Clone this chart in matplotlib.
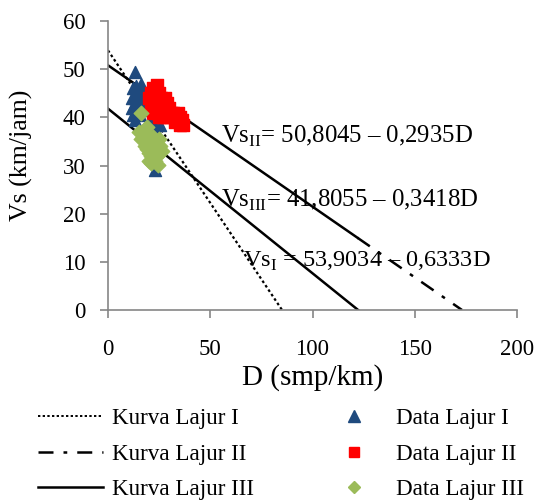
import matplotlib
matplotlib.use("Agg")
import matplotlib.pyplot as plt
from matplotlib.lines import Line2D
import numpy as np

plt.rcParams['font.family'] = ['Liberation Serif', 'DejaVu Serif']
plt.rcParams['mathtext.fontset'] = 'custom'
plt.rcParams['mathtext.rm'] = 'Liberation Serif'

# fitted curves: Vs = a - b*D
lanes = ['I', 'II', 'III']
intercepts = [53.9034, 50.8045, 41.8055]
slopes = [0.6333, 0.2935, 0.3418]

# observed data (D in smp/km, Vs in km/jam)
d_lajur1 = [13.2, 12.0, 13.5, 14.5, 15.5, 13.0, 16.0, 14.0, 15.0, 12.5, 16.5, 17.5,
            14.0, 15.5, 17.0, 13.5, 16.0, 21.0, 22.5, 24.0, 25.5, 23.0, 23.0,
            11.5, 11.8, 12.2, 13.0]
vs_lajur1 = [49.5, 46.0, 46.5, 45.0, 46.0, 44.0, 44.5, 43.0, 42.5, 42.5, 43.0, 41.5,
             41.5, 40.5, 45.0, 45.5, 47.0, 39.5, 38.5, 40.0, 38.5, 37.5, 29.0,
             44.0, 42.0, 40.5, 39.5]

d_lajur2 = [20, 21, 22, 23, 24, 25, 26, 22, 23, 24, 25, 26, 27, 28, 21, 22, 24, 26,
            27, 28, 29, 30, 31, 32, 33, 34, 35, 36, 25, 27, 29, 31, 33, 35, 23, 30, 36.5]
vs_lajur2 = [44.0, 45.0, 46.0, 45.5, 46.8, 45.0, 44.0, 43.0, 42.0, 44.0, 43.0, 42.0,
             43.0, 44.0, 42.0, 41.0, 41.0, 40.5, 41.0, 42.0, 43.0, 42.0, 41.0, 41.0,
             40.0, 41.0, 40.0, 39.5, 40.0, 40.0, 40.0, 40.0, 39.0, 38.5, 41.5, 40.5, 38.5]

d_lajur3 = [16.0, 15.0, 17.0, 18.0, 16.0, 19.0, 20.0, 18.0, 17.0, 21.0, 22.0, 19.0,
            20.0, 23.0, 21.0, 22.0, 24.0, 20.0, 23.0, 22.0, 24.0, 25.5, 21.0, 23.0,
            24.5, 19.0, 18.0, 26.5, 25.0]
vs_lajur3 = [40.9, 37.0, 36.5, 37.0, 35.5, 36.0, 35.0, 34.0, 36.0, 34.0, 35.0, 33.5,
             32.5, 33.0, 32.0, 31.5, 33.0, 31.0, 34.5, 36.0, 32.0, 34.0, 30.5, 31.0,
             30.1, 38.0, 37.5, 33.0, 35.5]

labels = [r'Vs$_{\mathrm{II}}$= 50,8045 – 0,2935D',
          r'Vs$_{\mathrm{III}}$= 41,8055 – 0,3418D',
          r'Vs$_{\mathrm{I}}$ = 53,9034 – 0,6333D']

fig = plt.figure(figsize=(5.39, 5.04), dpi=100)
ax = fig.add_axes([108 / 539, 1 - 310 / 504, 409 / 539, 289 / 504])

# curves
for a, b, lane in zip(intercepts, slopes, lanes):
    d_end = a / b
    if lane == 'I':
        d = np.linspace(0, d_end, 50)
        ax.plot(d, a - b * d, color='black', lw=1.6, ls=(0, (1.2, 1.2)))
    elif lane == 'II':
        # excel drew this one solid over the dense part
        d1 = np.linspace(0, 122, 50)
        d2 = np.linspace(122, d_end, 20)
        ax.plot(d1, a - b * d1, color='black', lw=1.8)
        ax.plot(d2, a - b * d2, color='black', lw=1.8, ls=(0, (6, 4, 1.5, 4)))
    else:
        d = np.linspace(0, d_end, 50)
        ax.plot(d, a - b * d, color='black', lw=1.8)

ax.scatter(d_lajur1, vs_lajur1, marker='^', s=75, color='#1F4A7E', zorder=3)
ax.scatter(d_lajur2, vs_lajur2, marker='s', s=70, color='#FF0000', zorder=3)
ax.scatter(d_lajur3, vs_lajur3, marker='D', s=55, color='#9BBB59', zorder=3)

ax.text(55.5, 36.0, labels[0], fontsize=17.8, va='center', ha='left')
ax.text(55.5, 22.8, labels[1], fontsize=17.8, va='center', ha='left')
ax.text(66.0, 10.0, labels[2], fontsize=17.5, va='center', ha='left')

ax.set_xlim(0, 200)
ax.set_ylim(0, 60)
ax.set_xticks([0, 50, 100, 150, 200])
ax.set_yticks([0, 10, 20, 30, 40, 50, 60])
for s in ['top', 'right']:
    ax.spines[s].set_visible(False)
for s in ['left', 'bottom']:
    ax.spines[s].set_color('#868686')
    ax.spines[s].set_linewidth(1.2)
ax.tick_params(axis='both', colors='#868686', labelcolor='black', length=6,
               width=1.2, labelsize=16.5, pad=10)
ax.tick_params(axis='x', pad=15)
ax.set_xlabel('D (smp/km)', fontsize=21, labelpad=3)
ax.set_ylabel('Vs (km/jam)', fontsize=18.6)
ax.yaxis.set_label_coords(-0.183, 0.536)

handles = [
    Line2D([], [], color='black', lw=1.4, ls=(0, (1.2, 1.2))),
    Line2D([], [], color='black', lw=1.8, ls=(0, (6, 4, 1.5, 4))),
    Line2D([], [], color='black', lw=1.8),
    Line2D([], [], ls='none', marker='^', ms=8, color='#1F4A7E'),
    Line2D([], [], ls='none', marker='s', ms=7.5, color='#FF0000'),
    Line2D([], [], ls='none', marker='D', ms=6.5, color='#9BBB59'),
]
names = ['Kurva Lajur I', 'Kurva Lajur II', 'Kurva Lajur III',
         'Data Lajur I', 'Data Lajur II', 'Data Lajur III']
fig.legend(handles, names, loc='upper left', bbox_to_anchor=(38 / 539, 1 - 408 / 504),
           ncol=2, frameon=False, fontsize=16.7, borderpad=0, borderaxespad=0,
           handlelength=2.8, handletextpad=0.4, columnspacing=2.9, labelspacing=0.62)

fig.savefig('out.png', dpi=100)
